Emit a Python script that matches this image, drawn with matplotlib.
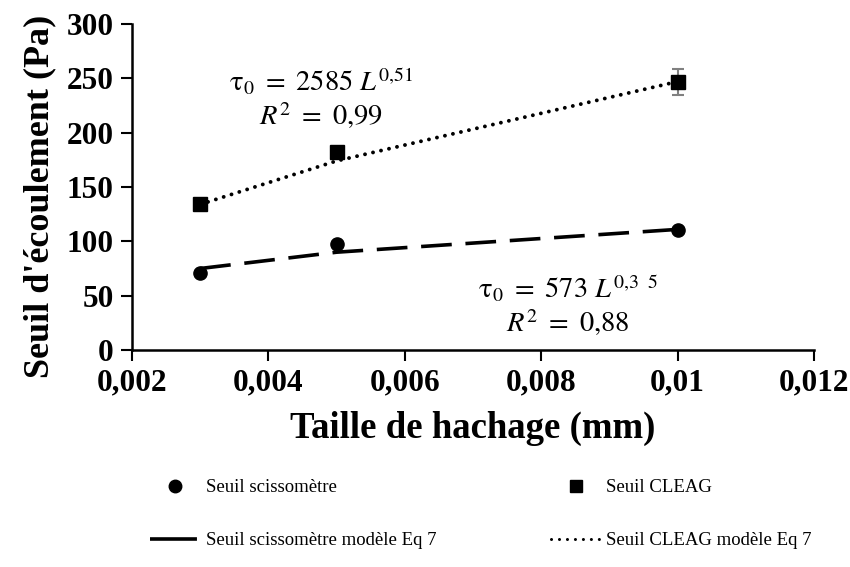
import numpy as np
import matplotlib
matplotlib.use("Agg")
import matplotlib.pyplot as plt
from matplotlib.lines import Line2D

plt.rcParams["font.family"] = ["Liberation Serif", "DejaVu Serif"]
plt.rcParams["mathtext.fontset"] = "stix"

# hachage size (mm) and measured yield stresses (Pa)
taille = [0.003, 0.005, 0.01]
seuil_sciss = [71, 98, 110]
seuil_cleag = [134, 182, 247]
err_cleag = [5, 5, 12]

# model curves (Eq 7)
modele_sciss = [75, 90, 111]
modele_cleag = [134, 174, 247]

xticks = [0.002, 0.004, 0.006, 0.008, 0.01, 0.012]
xtick_labels = ["0,002", "0,004", "0,006", "0,008", "0,01", "0,012"]
yticks = [0, 50, 100, 150, 200, 250, 300]

DASH = (0, (8.5, 3.8))
DOT = (0, (0.01, 2.1))

fig = plt.figure(figsize=(8.5, 5.67), dpi=100)
ax = fig.add_axes([0.1553, 0.3827, 0.8023, 0.575])

ax.plot(taille, modele_sciss, color="black", lw=2.6, linestyle=DASH,
        solid_capstyle="butt", zorder=2)
ax.plot(taille, modele_cleag, color="black", lw=2.8, linestyle=DOT,
        dash_capstyle="round", zorder=2)

ax.errorbar(taille, seuil_cleag, yerr=err_cleag, fmt="none", ecolor="#808080",
            elinewidth=1.5, capsize=4.5, capthick=1.5, zorder=3)
ax.plot(taille, seuil_sciss, "o", color="black", ms=9.5, zorder=4)
ax.plot(taille, seuil_cleag, "s", color="black", ms=9.5, zorder=4)

ax.set_xlim(0.002, 0.012)
ax.set_ylim(0, 300)
ax.set_xticks(xticks)
ax.set_xticklabels(xtick_labels)
ax.set_yticks(yticks)
for side in ["top", "right"]:
    ax.spines[side].set_visible(False)
for side in ["left", "bottom"]:
    ax.spines[side].set_linewidth(1.8)
ax.tick_params(axis="both", direction="out", length=8, width=1.5, labelsize=22.5, pad=5)
for lab in ax.get_xticklabels() + ax.get_yticklabels():
    lab.set_fontweight("bold")

ax.set_xlabel("Taille de hachage (mm)", fontsize=26.5, fontweight="bold", labelpad=10)
ax.set_ylabel("Seuil d'écoulement (Pa)", fontsize=26, fontweight="bold")
ax.yaxis.set_label_coords(-0.111, 0.47)

# fitted power-law equations
eq_size = 20.5
ax.text(0.00477, 247, r"$\mathrm{\tau}_0\ =\ 2585\ L^{0{,}51}$", fontsize=eq_size,
        ha="center", va="center")
ax.text(0.00477, 216, r"$R^2\ =\ 0{,}99$", fontsize=eq_size, ha="center", va="center")
ax.text(0.00839, 56, r"$\mathrm{\tau}_0\ =\ 573\ L^{0{,}3\ \ 5}$", fontsize=eq_size,
        ha="center", va="center")
ax.text(0.00839, 25, r"$R^2\ =\ 0{,}88$", fontsize=eq_size, ha="center", va="center")

handles = [
    Line2D([], [], marker="o", color="black", linestyle="none", ms=9),
    Line2D([], [], color="black", lw=2.6, linestyle=(0, (13, 3.5))),
    Line2D([], [], marker="s", color="black", linestyle="none", ms=9),
    Line2D([], [], color="black", lw=2.2, linestyle=(0, (0.01, 2.6)), dash_capstyle="round"),
]
labels = ["Seuil scissomètre", "Seuil scissomètre modèle Eq 7",
          "Seuil CLEAG", "Seuil CLEAG modèle Eq 7"]
fig.legend(handles, labels, loc="center left", bbox_to_anchor=(150 / 850, 0.093), ncol=2,
           frameon=False, fontsize=13.5, handlelength=2.67, handletextpad=0.3,
           labelspacing=1.9, columnspacing=6.1, borderpad=0, borderaxespad=0)

fig.savefig("out.png", dpi=100)
